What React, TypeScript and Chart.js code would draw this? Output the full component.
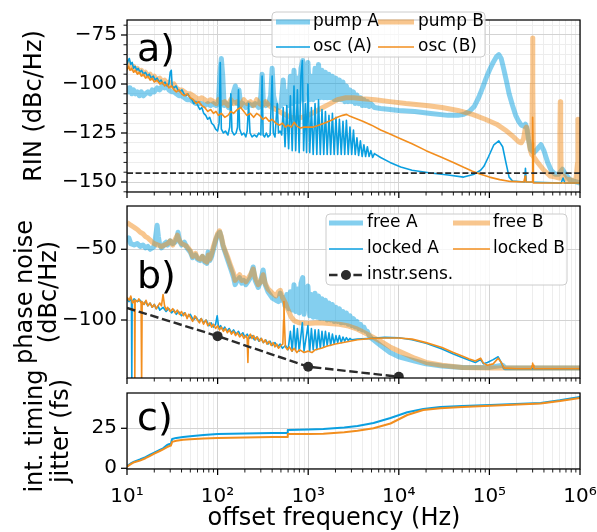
import React, { useEffect, useRef } from 'react';
import { Chart, registerables } from 'chart.js';

Chart.register(...registerables);

type P = [number, number];

const FONT = '"DejaVu Sans", sans-serif';
const BLUE = '#0a9fe0';
const ORANGE = '#f28e1e';
const BLUE_L = 'rgba(10,159,224,0.5)';
const ORANGE_L = 'rgba(242,142,30,0.5)';
const DARK = '#2b2b2b';
const GRID_MAJOR = '#d3d3d3';
const GRID_MINOR = '#ededed';
const W = 597;
const H = 532;

// ---------- x axis ----------
const X_MAJOR = [10, 100, 1000, 10000, 100000, 1000000];
const X_MAJOR_LABELS = ['10\u00b9', '10\u00b2', '10\u00b3', '10\u2074', '10\u2075', '10\u2076'];
const X_MINOR_MULT = [2, 3, 4, 5, 6, 7, 8, 9];

// ---------- panel a: RIN (dBc/Hz) ----------
const RIN_TICKS_MAJOR = [-150, -125, -100, -75];
const RIN_TICKS_ALL = [-155, -150, -145, -140, -135, -130, -125, -120, -115, -110, -105, -100, -95, -90, -85, -80, -75, -70];
const RIN_FLOOR = -145.5;

const rinPumpA: P[] = [
  [10, -101], [10.4, -104], [10.8, -102], [11.3, -105], [11.8, -103], [12.4, -105], [13, -104], [13.7, -106], [14.4, -104], [15.2, -106],
  [16, -105], [17, -104], [18, -105], [19, -103], [20, -104], [21.5, -102], [23, -103], [24.5, -101], [26, -102], [27.5, -101],
  [29, -103], [31, -104], [33, -104], [35, -105], [37.5, -106], [40, -106], [43, -107], [46, -108], [50, -108], [54, -109],
  [58, -110], [62, -110], [67, -110], [72, -111], [78, -110], [84, -111], [90, -110], [96, -111], [102, -110], [106, -95],
  [110, -87], [114, -96], [118, -111], [125, -110], [132, -112], [140, -110], [150, -104], [157, -101], [163, -110], [172, -103],
  [180, -111], [190, -110], [205, -112], [220, -110], [240, -111], [260, -110], [285, -112], [300, -106], [310, -95], [320, -109],
  [340, -111], [365, -110], [385, -106], [400, -92], [415, -106], [440, -111], [470, -112], [500, -111], [530, -98], [555, -110],
  [580, -104], [608, -111], [636, -96], [666, -110], [697, -93], [728, -109], [760, -97], [795, -109], [832, -92], [870, -88],
  [900, -108], [950, -95], [993, -89], [1040, -108], [1085, -96], [1135, -108], [1190, -92], [1245, -107], [1300, -90], [1360, -107],
  [1420, -93], [1485, -107], [1550, -94], [1620, -107], [1695, -95], [1770, -107], [1850, -96], [1935, -108], [2025, -97], [2115, -108],
  [2210, -98], [2315, -108], [2420, -99], [2530, -109], [2640, -101], [2765, -109], [2890, -103], [3020, -109], [3160, -104], [3300, -110],
  [3450, -105.6], [3600, -110], [3770, -107], [3940, -111], [4120, -108], [4300, -111], [4500, -109], [4700, -111.5], [4920, -110], [5380, -112],
  [6300, -112.5], [8000, -113], [10000, -113.5], [15000, -114], [22500, -115], [35000, -116], [45000, -116], [52000, -115.5], [60000, -114], [68000, -111.5],
  [76000, -107], [84000, -102], [92000, -97], [100000, -93], [110000, -89], [120000, -86], [127000, -85], [135000, -87], [145000, -93], [155000, -99],
  [165000, -105], [180000, -111], [195000, -116], [210000, -119], [225000, -121], [240000, -121.5], [250000, -120.5], [258000, -122], [270000, -128], [285000, -133.5],
  [310000, -135], [340000, -133], [370000, -131], [400000, -134], [440000, -140], [480000, -144], [530000, -146], [580000, -146], [640000, -143.5], [690000, -146],
  [780000, -149], [1000000, -150.5],
];

const rinPumpB: P[] = [
  [10, -91], [10.4, -89], [10.8, -90], [11.3, -92], [11.8, -91], [12.4, -93], [13, -92], [13.7, -94], [14.4, -93], [15.2, -95],
  [16, -94], [17, -96], [18, -95], [19, -97], [20, -96], [21.5, -98], [23, -97], [24.5, -99], [26, -98], [27.5, -100],
  [29, -99], [31, -101], [33, -100], [35, -102], [37.5, -103], [40, -103], [43, -104], [46, -105], [50, -105], [54, -106],
  [58, -107], [62, -108], [67, -107], [72, -108], [78, -109], [84, -108], [90, -109], [96, -110], [102, -108], [110, -110],
  [120, -109], [130, -111], [140, -108], [150, -110], [165, -109], [180, -111], [195, -108], [210, -110], [230, -109], [250, -111],
  [270, -108], [290, -110], [315, -111], [340, -109], [370, -111], [400, -112], [440, -113], [480, -114], [520, -115], [580, -116],
  [650, -117], [750, -117.5], [850, -117], [1000, -116], [1200, -114], [1450, -112], [1750, -110], [2100, -108], [2600, -107], [3200, -107],
  [4000, -107.5], [5500, -108], [8000, -109], [12000, -110], [20000, -111], [30000, -112], [45000, -113.5], [65000, -115.5], [90000, -118], [120000, -120.5],
  [155000, -124], [185000, -127], [210000, -129.5], [225000, -130], [238000, -128], [248000, -123], [256000, -122], [266000, -126], [280000, -133], [293000, -136],
  [298000, -100], [300000, -76.5], [302000, -100], [306000, -137], [340000, -140], [400000, -144], [470000, -147], [540000, -147.5], [590000, -148], [600000, -125],
  [606000, -109], [612000, -125], [620000, -148], [660000, -147], [700000, -148.5], [800000, -149], [900000, -149.5], [940000, -140], [950000, -118], [960000, -140],
  [980000, -150], [1000000, -150],
];

const rinOscA: P[] = [
  [10, -90], [10.3, -88], [10.6, -87], [11, -90], [11.4, -89], [11.8, -92], [12.3, -91], [12.8, -93], [13.3, -92], [13.9, -94],
  [14.5, -93], [15.2, -95], [16, -94], [16.8, -96], [17.6, -95], [18.5, -97], [19.5, -96], [20.5, -98], [21.5, -97], [22.6, -99],
  [23.8, -98], [25, -100], [26.3, -99], [27.7, -101], [29, -100], [30, -94], [30.8, -93], [31.5, -101], [33, -102], [34.7, -101],
  [36.5, -103], [38.4, -104], [40.4, -103], [42.5, -105], [44.7, -106], [47, -105], [49.4, -107], [52, -108], [54.7, -110], [57.5, -109],
  [60.5, -111], [63.6, -113], [66.9, -112], [70.4, -115], [74, -116], [77.8, -118], [81.8, -117], [86, -120], [90.5, -121], [95, -123],
  [100, -124], [104, -120], [107, -89], [110, -123], [116, -125], [122, -124], [130, -126], [136, -122], [140, -105], [144, -124],
  [152, -126], [160, -125], [166, -122], [170, -103], [175, -123], [185, -126], [195, -125], [205, -127], [212, -124], [220, -110],
  [228, -125], [240, -127], [255, -126], [270, -127], [285, -125], [300, -126], [310, -96], [318, -126], [330, -127], [345, -125],
  [360, -127], [380, -126], [400, -96], [412, -125], [430, -127], [455, -110], [470, -125], [490, -124], [510, -126], [530, -112],
  [555, -132], [580, -111], [608, -133], [636, -106], [666, -134], [697, -101], [728, -134], [760, -103], [795, -135], [832, -96],
  [862, -88], [890, -134], [930, -110], [960, -135], [993, -100], [1040, -135], [1085, -112], [1135, -136], [1190, -110], [1245, -136],
  [1300, -108], [1360, -136], [1420, -113], [1485, -136], [1550, -114], [1620, -136], [1695, -116], [1770, -136], [1850, -115], [1935, -136],
  [2025, -117], [2115, -136], [2210, -118], [2315, -136], [2420, -119], [2530, -136], [2640, -118.5], [2765, -136], [2890, -122], [3020, -136],
  [3160, -123.5], [3300, -136], [3450, -127.5], [3600, -136.5], [3770, -129], [3940, -137], [4120, -131], [4300, -137], [4500, -132], [4700, -137],
  [4920, -134], [5150, -137.5], [5380, -135.5], [6300, -137.5], [8000, -140], [10500, -142.3], [14000, -144], [22500, -145.4], [35000, -146.4], [52000, -147.5],
  [68000, -146], [80000, -144], [87000, -142], [98000, -137], [112000, -131], [127000, -129], [140000, -132], [152000, -140], [165000, -147.5], [180000, -149.5],
  [245000, -150], [250000, -143], [255000, -150], [620000, -150.5], [650000, -148], [680000, -150.5], [1000000, -150.5],
];

const rinOscB: P[] = [
  [10, -93], [10.4, -91], [10.8, -93], [11.3, -92], [11.8, -94], [12.4, -93], [13, -95], [13.7, -94], [14.4, -96], [15.2, -95],
  [16, -97], [17, -96], [18, -98], [19, -97], [20, -99], [21.5, -98], [23, -100], [24.5, -99], [26, -101], [27.5, -100],
  [29, -102], [31, -101], [33, -103], [35, -104], [37.5, -103], [40, -105], [43, -106], [46, -105], [50, -107], [54, -108],
  [58, -110], [62, -109], [67, -111], [72, -112], [78, -114], [84, -113], [90, -115], [96, -114], [102, -116], [110, -115],
  [120, -117], [130, -116], [140, -114], [150, -115], [165, -113], [180, -112], [195, -114], [210, -116], [230, -115], [250, -117],
  [270, -115], [290, -116], [315, -118], [340, -117], [370, -119], [400, -118], [440, -120], [480, -121], [520, -120], [560, -122],
  [600, -121], [650, -122], [700, -119.5], [750, -121.5], [820, -122.5], [900, -122], [1000, -122], [1140, -122], [1300, -121], [1500, -120],
  [1800, -118.5], [2100, -117], [2400, -116], [2650, -115.5], [2900, -116.5], [3300, -117.5], [4000, -119], [5000, -121], [6300, -123.5], [8000, -125.5],
  [10000, -127.5], [14000, -130.5], [20000, -134], [30000, -137.5], [40000, -140], [52000, -142.5], [65000, -144.5], [80000, -146], [100000, -147.5], [130000, -148.8],
  [170000, -149.7], [240000, -150], [248000, -147], [252000, -150], [296000, -150], [299000, -130], [301000, -117], [303000, -130], [306000, -150.5], [1000000, -150.5],
];

// ---------- panel b: phase noise (dBc/Hz) ----------
const PN_TICKS = [-100, -50];

const pnFreeA: P[] = [
  [10, -45], [10.5, -42], [11, -46], [12, -47], [13, -46], [14, -48], [15, -47], [16, -49], [17, -48], [18, -50],
  [19, -49], [20, -48], [20.8, -40], [21.5, -33], [22.2, -41], [23, -47], [24, -49], [25, -48], [26, -46], [27, -45],
  [28, -47], [30, -44], [32, -46], [34, -45], [35.5, -42], [36.6, -38], [38, -44], [40, -47], [43, -45], [46, -49],
  [50, -52], [53, -56], [57, -54], [60, -57], [64, -58], [68, -55], [72, -59], [76, -60], [78.6, -52], [82, -58],
  [86, -55], [90, -50], [95, -44], [100, -40], [106, -38], [110, -42], [115, -48], [121, -52], [130, -58], [140, -64],
  [150, -70], [156, -75], [165, -72], [175, -70], [185, -74], [195, -72], [205, -75], [215, -73], [230, -70], [247, -62.5],
  [260, -72], [281, -77], [300, -72], [318, -64.6], [335, -75], [360, -80], [402, -84.5], [440, -86], [469, -87], [492, -81],
  [510, -86], [530, -84], [555, -90], [580, -82], [608, -92], [636, -80], [666, -93], [697, -75], [728, -94], [760, -78],
  [795, -95], [832, -74], [870, -70], [900, -96], [950, -80], [993, -76], [1040, -97], [1085, -82], [1135, -98], [1190, -81],
  [1245, -98], [1300, -83], [1360, -99], [1420, -85], [1485, -99], [1550, -86], [1620, -100], [1695, -88], [1770, -100], [1850, -89],
  [1935, -101], [2025, -91], [2115, -101], [2210, -92], [2315, -102], [2420, -94], [2530, -102], [2640, -95], [2765, -103], [2890, -97],
  [3020, -104], [3160, -99], [3300, -105], [3450, -101], [3600, -106], [3770, -103], [3940, -107], [4120, -105], [4300, -108], [4500, -108],
  [4700, -111], [5000, -113], [6300, -118], [8000, -123], [10000, -126], [15000, -129], [20000, -131], [30000, -132.5], [50000, -133.5], [100000, -133.5],
  [140000, -132], [150000, -134], [300000, -134], [1000000, -134],
];

const pnFreeB: P[] = [
  [10, -31], [11, -33], [12, -34.5], [13, -36], [14, -38], [15, -39], [16, -41], [17, -42], [18, -43.5], [19, -45],
  [20, -46], [22, -47], [24, -48], [26, -47], [28, -46], [30, -44], [32, -47], [34, -43], [36, -40], [38, -44],
  [40, -46], [43, -47], [46, -48], [50, -51], [53, -55], [57, -53], [60, -56], [64, -57], [68, -55], [72, -58],
  [76, -59], [79, -54], [82, -57], [86, -53], [90, -48], [95, -43], [100, -39], [105, -37], [110, -41], [115, -47],
  [121, -51], [130, -56], [140, -62], [150, -67], [156, -72], [165, -70], [175, -68], [185, -72], [195, -70], [205, -73],
  [215, -71], [230, -68], [247, -64], [260, -70], [281, -75], [300, -73], [318, -68], [335, -74], [360, -78], [402, -81],
  [440, -83], [469, -80], [492, -79], [520, -84], [560, -88], [600, -93], [650, -98], [700, -100.5], [800, -102], [1000, -102.5],
  [1300, -102], [1700, -102.5], [2200, -103], [2700, -104], [3500, -106.5], [4500, -110], [5500, -113], [6300, -115], [8000, -119], [10000, -122],
  [15000, -127], [20000, -130], [30000, -132], [50000, -133.5], [100000, -134], [1000000, -134],
];

const pnLockedA: P[] = [
  [10, -85], [10.5, -87], [11, -84], [11.2, -88], [11.3, -145], [11.4, -87], [12, -85], [13, -87], [14, -86], [15, -89],
  [16, -87], [17, -90], [18, -88], [19, -91], [20, -89], [21, -92], [22, -90], [23, -93], [25, -91], [27, -94],
  [29, -92], [31, -95], [33, -93], [35, -96], [37, -94], [40, -97], [43, -95], [46, -98], [50, -96], [54, -100],
  [58, -98], [62, -101], [66, -99], [70, -102], [75, -100], [80, -104], [85, -102], [90, -105], [95, -103], [99, -97],
  [103, -106], [108, -104], [114, -107], [120, -105], [127, -108], [134, -106], [142, -109], [150, -107], [160, -110], [170, -108],
  [180, -111], [190, -109], [200, -112], [212, -110], [225, -113], [240, -111], [255, -114], [270, -112], [285, -115], [300, -113],
  [320, -116], [340, -114], [360, -117], [380, -115], [400, -118], [430, -116], [460, -119], [490, -117], [520, -120], [560, -118],
  [600, -121], [636, -108], [666, -122], [697, -104], [728, -121], [760, -106], [795, -122], [862, -102], [900, -122], [993, -104],
  [1040, -122], [1085, -106], [1135, -121], [1190, -107], [1245, -121], [1300, -107], [1360, -120], [1420, -108], [1485, -119], [1550, -108],
  [1620, -118], [1695, -109], [1770, -118], [1850, -110], [1935, -117], [2025, -111], [2115, -116], [2210, -111], [2315, -116], [2420, -112],
  [2530, -115], [2640, -112.5], [2765, -114.5], [2890, -113], [3020, -114], [3500, -113.5], [5000, -113], [7000, -112.3], [10000, -112.5], [14000, -114],
  [20000, -116.5], [30000, -120.5], [40000, -124], [50000, -126.5], [60000, -128.5], [70000, -130], [80000, -128], [86000, -131], [95000, -130], [110000, -128],
  [125000, -126], [135000, -130], [145000, -134.5], [200000, -134.5], [1000000, -134.5],
];

const pnLockedB: P[] = [
  [10, -84], [10.6, -86], [11, -83], [11.5, -88], [12.1, -86], [12.2, -145], [12.3, -86], [13, -87], [13.5, -85], [14.3, -88],
  [14.5, -145], [14.7, -87], [15.5, -89], [16.2, -86], [17, -90], [18, -88], [19, -91], [20, -89], [21, -92], [22, -90],
  [23, -88], [24, -90], [25, -82], [26, -90], [27, -93], [28, -91], [30, -94], [32, -92], [34, -95], [36, -93],
  [38, -96], [40, -94], [42, -97], [44, -95], [46, -99], [48, -96], [50, -98], [53, -101], [56, -97], [60, -100],
  [63, -102], [66, -99], [70, -103], [74, -100], [78, -104], [82, -102], [86, -105], [90, -103], [95, -106], [100, -104],
  [105, -107], [110, -105], [116, -108], [122, -106], [128, -109], [135, -107], [142, -110], [150, -108], [158, -111], [166, -109],
  [175, -112], [185, -110], [195, -113], [205, -111], [212, -113], [216, -130], [220, -112], [230, -110], [240, -113], [250, -111],
  [262, -114], [275, -112], [290, -115], [305, -113], [320, -116], [335, -114], [350, -117], [370, -115], [390, -118], [410, -116],
  [430, -119], [450, -117], [470, -120], [500, -118], [525, -117], [535, -100], [540, -87], [545, -100], [560, -119], [590, -121],
  [620, -119], [660, -122], [700, -120], [750, -123], [800, -121], [850, -122], [900, -123], [1000, -122], [1100, -123], [1200, -121],
  [1400, -120], [1600, -118.5], [2000, -117], [2700, -115.4], [3500, -114], [5000, -113], [7000, -112.7], [10000, -112.7], [14000, -113.5], [20000, -116],
  [30000, -119.5], [40000, -123], [50000, -125.5], [60000, -127.5], [70000, -129], [80000, -127], [86000, -130.5], [95000, -132], [110000, -131], [125000, -127],
  [135000, -130], [145000, -134], [200000, -134.5], [290000, -134.5], [297000, -132], [300000, -130.5], [303000, -132], [310000, -134.5], [1000000, -134.5],
];

const pnInstr: P[] = [[10, -91.5], [100, -111.4], [1000, -133], [10000, -140.1]];
const pnInstrMarker = [0, 5, 5, 5];

// ---------- panel c: integrated timing jitter (fs) ----------
const JIT_TICKS = [0, 25];

const jitA: P[] = [
  [10, 1.4], [11, 3], [12, 4.2], [13.9, 5.5], [16, 7], [18, 8.5], [20, 9.8], [23, 11.5], [25, 12.5], [27.7, 14.6],
  [29, 15], [30.5, 15.4], [31.5, 18.3], [35, 19], [41.6, 19.6], [50, 20], [70, 20.8], [100, 21.4], [200, 21.8], [400, 22],
  [585, 22.1], [595, 24], [1000, 24.3], [1470, 24.5], [2500, 25.5], [3500, 26.4], [5260, 28.3], [8100, 31.4], [12400, 35], [18600, 37],
  [28700, 38.3], [50000, 39], [102000, 39.6], [368000, 40.8], [600000, 42.5], [1000000, 44.6],
];

const jitB: P[] = [
  [10, 1], [11, 2.6], [12, 3.8], [13.9, 4.8], [16, 6.3], [18, 7.8], [20, 9.2], [23, 10.8], [25, 11.8], [27.7, 13.3],
  [29, 13.8], [30.5, 14.2], [31.5, 16.5], [35, 17.2], [41.6, 17.8], [50, 18.2], [70, 18.6], [100, 19], [200, 19.3], [400, 19.5],
  [585, 19.6], [595, 21.4], [1000, 21.5], [1470, 21.6], [2500, 22.5], [3500, 23.4], [5260, 25], [8100, 28], [12400, 33.3], [18600, 36.4],
  [28700, 37.6], [50000, 38.3], [102000, 39.1], [368000, 40.5], [600000, 42], [1000000, 44],
];

// ---------- helpers ----------
function xTickValues(): number[] {
  const out: number[] = [];
  for (let i = 0; i < X_MAJOR.length; i++) {
    out.push(X_MAJOR[i]);
    if (i < X_MAJOR.length - 1) for (const m of X_MINOR_MULT) out.push(X_MAJOR[i] * m);
  }
  return out;
}

const fmt = (v: number) => (v < 0 ? '\u2212' + Math.abs(v) : String(v));

function ds(label: string, arr: P[], color: string, width: number, extra: any = {}) {
  return {
    label,
    data: arr.map(([x, y]) => ({ x, y })),
    borderColor: color,
    backgroundColor: color,
    borderWidth: width,
    pointRadius: 0,
    pointHoverRadius: 0,
    tension: 0,
    fill: false,
    clip: 0,
    borderJoinStyle: 'round',
    borderCapStyle: 'butt',
    ...extra,
  };
}

// p.top / p.bottom: page pixel positions of the plot area
function buildOptions(p: any) {
  const xTicks = xTickValues();
  return {
    responsive: false,
    maintainAspectRatio: false,
    animation: false,
    devicePixelRatio: 1,
    events: [],
    layout: { padding: { left: 0, right: 17, top: p.top, bottom: 0 } },
    plugins: { legend: { display: false }, tooltip: { enabled: false }, title: { display: false } },
    scales: {
      x: {
        type: 'logarithmic',
        min: 10,
        max: 1e6,
        bounds: 'data',
        afterBuildTicks: (s: any) => {
          s.ticks = xTicks.map((v) => ({ value: v }));
        },
        afterFit: (s: any) => {
          s.height = H - p.bottom;
          s.paddingLeft = 0;
          s.paddingRight = 0;
          s.paddingTop = 0;
          s.paddingBottom = 0;
        },
        grid: {
          color: (c: any) => (c.tick && X_MAJOR.includes(c.tick.value) ? GRID_MAJOR : GRID_MINOR),
          lineWidth: 1,
          drawTicks: false,
        },
        border: { display: false },
        ticks: { display: false, autoSkip: false, maxRotation: 0 },
      },
      y: {
        type: 'linear',
        min: p.yMin,
        max: p.yMax,
        bounds: 'data',
        afterBuildTicks: (s: any) => {
          s.ticks = p.yTicks.map((v: number) => ({ value: v }));
        },
        afterFit: (s: any) => {
          s.width = 127;
          s.paddingTop = 0;
          s.paddingBottom = 0;
          s.paddingLeft = 0;
          s.paddingRight = 0;
        },
        grid: {
          color: (c: any) => (c.tick && p.yMajor.includes(c.tick.value) ? GRID_MAJOR : GRID_MINOR),
          lineWidth: 1,
          drawTicks: false,
        },
        border: { display: false },
        ticks: {
          autoSkip: false,
          padding: 10,
          color: '#000',
          font: { family: FONT, size: 20 },
          callback: (v: number) => (p.yMajor.includes(v) ? fmt(v) : ''),
        },
      },
    },
  };
}

function drawLegend(ctx: CanvasRenderingContext2D, L: any) {
  const b = L.box;
  ctx.save();
  ctx.beginPath();
  (ctx as any).roundRect(b.x, b.y, b.w, b.h, 4);
  ctx.fillStyle = 'rgba(255,255,255,0.8)';
  ctx.fill();
  ctx.strokeStyle = '#cccccc';
  ctx.lineWidth = 1;
  ctx.stroke();
  for (const it of L.items) {
    ctx.beginPath();
    ctx.strokeStyle = it.color;
    ctx.lineWidth = it.width;
    ctx.setLineDash(it.dash || []);
    ctx.moveTo(it.x0, it.y);
    ctx.lineTo(it.x1, it.y);
    ctx.stroke();
    ctx.setLineDash([]);
    if (it.marker) {
      ctx.beginPath();
      ctx.arc((it.x0 + it.x1) / 2, it.y, 5, 0, Math.PI * 2);
      ctx.fillStyle = it.color;
      ctx.fill();
    }
    ctx.fillStyle = '#000';
    ctx.font = `17px ${FONT}`;
    ctx.textAlign = 'left';
    ctx.textBaseline = 'middle';
    ctx.fillText(it.label, it.tx, it.y);
  }
  ctx.restore();
}

function decorPlugin(p: any) {
  return {
    id: 'decor',
    afterDraw(chart: any) {
      const ctx: CanvasRenderingContext2D = chart.ctx;
      const a = chart.chartArea;
      const xs = chart.scales.x;
      const ys = chart.scales.y;
      ctx.save();
      ctx.strokeStyle = '#000';
      ctx.lineWidth = 1.25;
      ctx.strokeRect(a.left, a.top, a.right - a.left, a.bottom - a.top);
      for (const t of xs.ticks) {
        const px = xs.getPixelForValue(t.value);
        const maj = X_MAJOR.includes(t.value);
        ctx.lineWidth = maj ? 1.25 : 0.9;
        ctx.beginPath();
        ctx.moveTo(px, a.bottom);
        ctx.lineTo(px, a.bottom + (maj ? 6 : 3.5));
        ctx.stroke();
      }
      for (const t of ys.ticks) {
        const maj = p.yMajor.includes(t.value);
        if (!maj && !p.yMinorTicks) continue;
        const py = ys.getPixelForValue(t.value);
        if (py < a.top - 0.5 || py > a.bottom + 0.5) continue;
        ctx.lineWidth = maj ? 1.25 : 0.9;
        ctx.beginPath();
        ctx.moveTo(a.left, py);
        ctx.lineTo(a.left - (maj ? 6 : 3.5), py);
        ctx.stroke();
      }
      ctx.fillStyle = '#000';
      if (p.xLabelY) {
        ctx.font = `20px ${FONT}`;
        ctx.textAlign = 'center';
        ctx.textBaseline = 'alphabetic';
        X_MAJOR.forEach((v, i) => ctx.fillText(X_MAJOR_LABELS[i], xs.getPixelForValue(v), p.xLabelY));
      }
      if (p.xTitle) {
        ctx.font = `24px ${FONT}`;
        ctx.textAlign = 'center';
        ctx.textBaseline = 'alphabetic';
        ctx.fillText(p.xTitle.text, p.xTitle.x, p.xTitle.y);
      }
      ctx.font = `38px ${FONT}`;
      ctx.textAlign = 'left';
      ctx.textBaseline = 'alphabetic';
      ctx.fillText(p.letter.text, p.letter.x, p.letter.y);
      for (const t of p.titles) {
        ctx.save();
        ctx.translate(t.x, t.y);
        ctx.rotate(-Math.PI / 2);
        ctx.font = `24px ${FONT}`;
        ctx.textAlign = 'center';
        ctx.textBaseline = 'alphabetic';
        ctx.fillText(t.text, 0, 0);
        ctx.restore();
      }
      if (p.legend) drawLegend(ctx, p.legend);
      ctx.restore();
    },
  };
}

const canvasStyle: React.CSSProperties = { position: 'absolute', left: 0, top: 0 };

export default function App() {
  const refA = useRef<HTMLCanvasElement>(null);
  const refB = useRef<HTMLCanvasElement>(null);
  const refC = useRef<HTMLCanvasElement>(null);

  useEffect(() => {
    Chart.defaults.font.family = FONT;
    const floor: P[] = [[10, RIN_FLOOR], [1000000, RIN_FLOOR]];

    const chartA = new Chart(refA.current as HTMLCanvasElement, {
      type: 'line',
      data: {
        datasets: [
          ds('floor', floor, DARK, 1.8, { borderDash: [6, 2.6] }),
          ds('osc (B)', rinOscB, ORANGE, 1.6),
          ds('osc (A)', rinOscA, BLUE, 1.6),
          ds('pump B', rinPumpB, ORANGE_L, 5),
          ds('pump A', rinPumpA, BLUE_L, 5),
        ] as any,
      },
      options: buildOptions({
        top: 20, bottom: 192, yMin: -155.1, yMax: -67.35, yTicks: RIN_TICKS_ALL, yMajor: RIN_TICKS_MAJOR,
      }) as any,
      plugins: [
        decorPlugin({
          yMajor: RIN_TICKS_MAJOR,
          yMinorTicks: true,
          letter: { text: 'a)', x: 137, y: 61 },
          titles: [{ text: 'RIN (dBc/Hz)', x: 41, y: 106 }],
          legend: {
            box: { x: 272, y: 12, w: 213, h: 45 },
            items: [
              { label: 'pump A', color: BLUE_L, width: 5, x0: 276, x1: 310, y: 22, tx: 313 },
              { label: 'pump B', color: ORANGE_L, width: 5, x0: 378, x1: 414, y: 22, tx: 418 },
              { label: 'osc (A)', color: BLUE, width: 1.6, x0: 276, x1: 310, y: 47, tx: 313 },
              { label: 'osc (B)', color: ORANGE, width: 1.6, x0: 378, x1: 414, y: 47, tx: 418 },
            ],
          },
        }),
      ],
    });

    const chartB = new Chart(refB.current as HTMLCanvasElement, {
      type: 'line',
      data: {
        datasets: [
          ds('instr.sens.', pnInstr, DARK, 2.4, {
            borderDash: [8.5, 3.7],
            pointRadius: pnInstrMarker,
            pointBackgroundColor: DARK,
            pointBorderColor: DARK,
            pointBorderWidth: 0,
          }),
          ds('locked B', pnLockedB, ORANGE, 1.6),
          ds('locked A', pnLockedA, BLUE, 1.6),
          ds('free B', pnFreeB, ORANGE_L, 5),
          ds('free A', pnFreeA, BLUE_L, 5),
        ] as any,
      },
      options: buildOptions({
        top: 206, bottom: 378, yMin: -141, yMax: -19.4, yTicks: PN_TICKS, yMajor: PN_TICKS,
      }) as any,
      plugins: [
        decorPlugin({
          yMajor: PN_TICKS,
          yMinorTicks: false,
          letter: { text: 'b)', x: 137, y: 288 },
          titles: [
            { text: 'phase noise', x: 32, y: 292 },
            { text: '(dBc/Hz)', x: 56, y: 292 },
          ],
          legend: {
            box: { x: 326, y: 214, w: 241, h: 71 },
            items: [
              { label: 'free A', color: BLUE_L, width: 5, x0: 329, x1: 363, y: 223, tx: 367 },
              { label: 'free B', color: ORANGE_L, width: 5, x0: 453, x1: 490, y: 223, tx: 493 },
              { label: 'locked A', color: BLUE, width: 1.6, x0: 329, x1: 363, y: 249, tx: 367 },
              { label: 'locked B', color: ORANGE, width: 1.6, x0: 453, x1: 490, y: 249, tx: 493 },
              { label: 'instr.sens.', color: DARK, width: 2.4, dash: [8.5, 3.7], marker: true, x0: 329, x1: 363, y: 275, tx: 367 },
            ],
          },
        }),
      ],
    });

    const chartC = new Chart(refC.current as HTMLCanvasElement, {
      type: 'line',
      data: {
        datasets: [
          ds('jitter B', jitB, ORANGE, 2),
          ds('jitter A', jitA, BLUE, 2),
        ] as any,
      },
      options: buildOptions({
        top: 393, bottom: 469, yMin: -0.44, yMax: 47.06, yTicks: JIT_TICKS, yMajor: JIT_TICKS,
      }) as any,
      plugins: [
        decorPlugin({
          yMajor: JIT_TICKS,
          yMinorTicks: false,
          letter: { text: 'c)', x: 137, y: 430 },
          titles: [
            { text: 'int. timing', x: 42, y: 431 },
            { text: 'jitter (fs)', x: 68, y: 431 },
          ],
          xLabelY: 502,
          xTitle: { text: 'offset frequency (Hz)', x: 334, y: 525 },
        }),
      ],
    });

    return () => {
      chartA.destroy();
      chartB.destroy();
      chartC.destroy();
    };
  }, []);

  return (
    <div style={{ position: 'absolute', left: 0, top: 0, width: W, height: H, background: '#fff' }}>
      <canvas ref={refA} width={W} height={H} style={canvasStyle} />
      <canvas ref={refB} width={W} height={H} style={canvasStyle} />
      <canvas ref={refC} width={W} height={H} style={canvasStyle} />
    </div>
  );
}
